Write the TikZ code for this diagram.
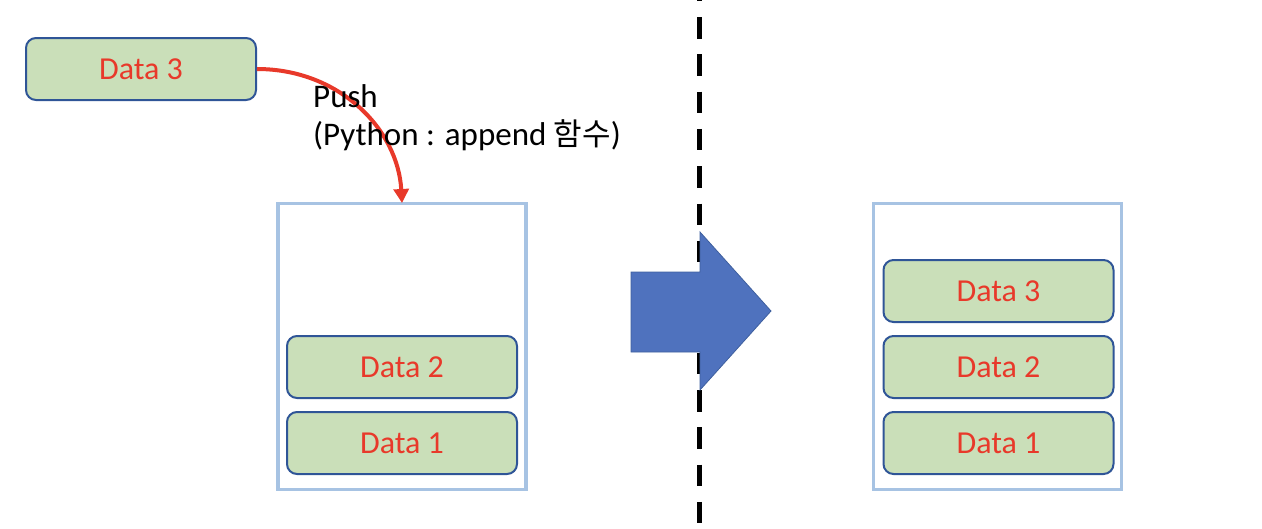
\documentclass[tikz,border=0pt]{standalone}
\usepackage{fontspec}
\usetikzlibrary{arrows.meta}
\setmainfont{Carlito}
\newfontfamily\kofont{Noto Sans CJK KR}
\definecolor{boxgreen}{HTML}{CADFB9}
\definecolor{boxedge}{HTML}{2F5597}
\definecolor{txtred}{HTML}{E8392A}
\definecolor{contedge}{HTML}{A7C3E3}
\definecolor{arrowblue}{HTML}{4F72BE}
\definecolor{arrowedge}{HTML}{3E5F9E}
\begin{document}
\begin{tikzpicture}[x=1pt,y=-1pt,
  databox/.style={draw=boxedge,fill=boxgreen,line width=2pt,rounded corners=10pt,
    minimum width=230pt,minimum height=62pt,inner sep=0pt,
    font=\fontsize{32}{36}\selectfont,text=txtred},
  container/.style={draw=contedge,line width=3.5pt,minimum width=248pt,minimum height=286pt,inner sep=0pt},
  pushlbl/.style={align=left,inner sep=0pt,font=\fontsize{33}{38}\selectfont,anchor=north west}]
\useasboundingbox (0,0) rectangle (1262,528);
% dashed separator
\draw[line width=5pt,dash pattern=on 21.5pt off 15.8pt] (699.5,-20.3) -- (699.5,530);
% containers
\node[container] (lc) at (402,346.5) {};
\node[container] (rc) at (997.5,346.5) {};
% data boxes
\node[databox] (top3) at (141,69) {Data 3};
\node[databox] (l2) at (402,367) {Data 2};
\node[databox] (l1) at (402,443) {Data 1};
\node[databox] (r3) at (998.5,291) {Data 3};
\node[databox] (r2) at (998.5,367) {Data 2};
\node[databox] (r1) at (998.5,443) {Data 1};
% push arrow
\coordinate (tgt) at (402,203);
\draw[txtred,line width=4pt,-{Triangle[length=14pt,width=15pt]}]
  (top3.east) .. controls (340,69) and (398,130) .. (tgt);
\node[pushlbl] (lbl) at (313,84) {Push\\(Python : append {\kofont\fontsize{31}{38}\selectfont 함수})};
% big block arrow
\fill[arrowblue,draw=arrowedge,line width=0.8pt]
  (631,272) -- (700,272) -- (700,232) -- (771,311) -- (700,390) -- (700,352) -- (631,352) -- cycle;
\end{tikzpicture}
\end{document}
